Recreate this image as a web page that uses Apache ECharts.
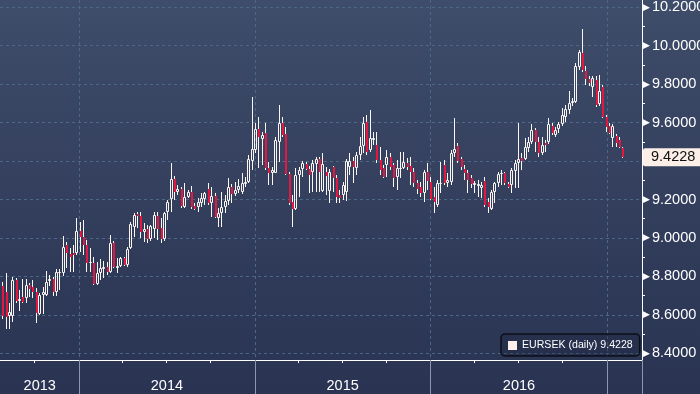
<!DOCTYPE html>
<html>
<head>
<meta charset="utf-8">
<script src="https://cdn.jsdelivr.net/npm/echarts@6.0.0/dist/echarts.min.js"></script>
<style>
html,body{margin:0;padding:0;background:#2f3a58;}
#c{width:700px;height:394px;background:linear-gradient(180deg,#3e4d6a 0%,#36425f 40%,#2f3a59 70%,#2a3352 100%);}
</style>
</head>
<body>
<div id="c"></div>
<script>
// ---- data (weekly bars, EURSEK) ----
const seriesName = 'EURSEK (daily)';
const axisStart = '2013-07-21';   // first day shown on the time axis
const axisDays = 1333;            // number of calendar days shown
const firstBar = '2013-07-26';    // date of first weekly bar (weekly thereafter)
const yearLabels = ['2013', '2014', '2015', '2016'];

const open = [8.750,8.720,8.594,8.594,8.781,8.674,8.691,8.686,8.755,8.743,
8.720,8.604,8.701,8.703,8.778,8.788,8.720,8.819,8.819,8.961,
8.916,8.922,8.923,9.038,9.007,8.963,8.868,8.871,8.759,8.816,
8.840,8.850,8.824,8.972,8.845,8.856,8.894,8.861,8.950,9.059,
9.123,9.116,9.029,9.045,8.993,9.048,9.116,9.050,8.993,9.137,
9.201,9.305,9.237,9.253,9.159,9.215,9.241,9.166,9.163,9.180,
9.201,9.253,9.180,9.218,9.105,9.131,9.163,9.192,9.263,9.229,
9.249,9.241,9.281,9.289,9.400,9.458,9.565,9.513,9.544,9.362,
9.340,9.340,9.501,9.596,9.541,9.333,9.189,9.149,9.327,9.357,
9.385,9.359,9.345,9.385,9.411,9.246,9.345,9.244,9.367,9.310,
9.223,9.223,9.241,9.371,9.402,9.362,9.432,9.478,9.602,9.458,
9.510,9.484,9.406,9.362,9.380,9.419,9.380,9.319,9.357,9.362,
9.392,9.374,9.345,9.284,9.263,9.236,9.345,9.293,9.211,9.171,
9.281,9.380,9.284,9.293,9.440,9.478,9.409,9.357,9.340,9.314,
9.276,9.270,9.258,9.298,9.189,9.149,9.241,9.288,9.331,9.340,
9.281,9.276,9.350,9.392,9.418,9.409,9.466,9.501,9.562,9.501,
9.444,9.492,9.501,9.582,9.536,9.565,9.593,9.631,9.666,9.704,
9.709,9.891,9.960,9.870,9.825,9.787,9.822,9.697,9.784,9.631,
9.582,9.518,9.530,9.510,9.466];

const close = [8.594,8.590,8.615,8.781,8.674,8.684,8.668,8.755,8.736,8.720,
8.608,8.703,8.719,8.771,8.788,8.720,8.823,8.823,8.951,8.923,
8.899,8.913,9.038,9.007,8.963,8.868,8.873,8.759,8.816,8.845,
8.850,8.824,8.972,8.850,8.856,8.894,8.861,8.944,9.073,9.119,
9.116,9.029,9.045,8.993,9.062,9.119,9.045,8.993,9.128,9.189,
9.305,9.241,9.253,9.166,9.215,9.241,9.159,9.151,9.189,9.206,
9.232,9.180,9.218,9.111,9.131,9.163,9.192,9.263,9.229,9.249,
9.270,9.284,9.289,9.411,9.461,9.567,9.523,9.534,9.362,9.340,
9.353,9.510,9.596,9.536,9.333,9.180,9.149,9.327,9.353,9.388,
9.359,9.327,9.388,9.409,9.345,9.385,9.322,9.345,9.310,9.211,
9.206,9.276,9.402,9.402,9.371,9.432,9.478,9.596,9.449,9.518,
9.518,9.406,9.354,9.319,9.419,9.367,9.310,9.362,9.362,9.397,
9.371,9.345,9.284,9.255,9.236,9.345,9.298,9.201,9.189,9.288,
9.288,9.284,9.302,9.444,9.461,9.402,9.371,9.340,9.302,9.281,
9.284,9.281,9.276,9.171,9.159,9.241,9.284,9.333,9.340,9.284,
9.267,9.354,9.392,9.409,9.402,9.472,9.501,9.562,9.501,9.440,
9.484,9.484,9.591,9.544,9.562,9.593,9.640,9.669,9.700,9.714,
9.895,9.969,9.874,9.825,9.804,9.830,9.692,9.765,9.631,9.575,
9.544,9.580,9.492,9.471,9.4228];

const low = [8.580,8.524,8.524,8.564,8.663,8.622,8.663,8.663,8.694,8.686,
8.556,8.599,8.604,8.698,8.751,8.698,8.698,8.729,8.802,8.842,
8.824,8.824,8.911,8.929,8.911,8.824,8.824,8.755,8.755,8.781,
8.790,8.807,8.816,8.845,8.816,8.850,8.854,8.850,8.940,9.007,
9.053,8.998,8.981,8.972,8.986,8.998,8.989,8.975,8.986,9.093,
9.137,9.197,9.223,9.154,9.154,9.206,9.149,9.145,9.137,9.159,
9.171,9.171,9.111,9.102,9.059,9.059,9.128,9.171,9.180,9.218,
9.232,9.229,9.267,9.284,9.353,9.440,9.362,9.380,9.353,9.275,
9.275,9.336,9.397,9.527,9.327,9.171,9.059,9.145,9.215,9.318,
9.353,9.232,9.241,9.241,9.241,9.241,9.223,9.180,9.241,9.180,
9.180,9.197,9.194,9.327,9.284,9.327,9.406,9.440,9.432,9.449,
9.484,9.388,9.327,9.310,9.319,9.354,9.267,9.249,9.310,9.357,
9.354,9.276,9.267,9.230,9.215,9.189,9.249,9.197,9.128,9.163,
9.232,9.276,9.267,9.276,9.423,9.388,9.354,9.302,9.232,9.258,
9.232,9.211,9.206,9.163,9.128,9.145,9.180,9.267,9.276,9.276,
9.258,9.232,9.258,9.258,9.354,9.406,9.449,9.489,9.449,9.423,
9.432,9.449,9.489,9.536,9.527,9.548,9.582,9.605,9.645,9.687,
9.700,9.874,9.865,9.796,9.791,9.735,9.683,9.686,9.622,9.553,
9.541,9.475,9.475,9.466,9.414];

const high = [8.770,8.816,8.660,8.795,8.790,8.729,8.785,8.785,8.764,8.781,
8.738,8.712,8.743,8.830,8.805,8.795,8.840,8.840,9.010,8.981,
8.946,8.963,9.102,9.085,9.093,8.989,8.946,8.903,8.877,8.889,
8.882,8.877,9.015,8.986,8.894,8.903,8.903,8.955,9.085,9.132,
9.137,9.137,9.076,9.067,9.067,9.137,9.137,9.102,9.137,9.197,
9.392,9.322,9.276,9.267,9.284,9.249,9.270,9.180,9.206,9.232,
9.241,9.284,9.267,9.232,9.154,9.241,9.223,9.310,9.280,9.293,
9.305,9.336,9.319,9.432,9.735,9.600,9.627,9.553,9.596,9.397,
9.371,9.527,9.692,9.627,9.575,9.345,9.223,9.362,9.367,9.402,
9.397,9.374,9.406,9.420,9.423,9.440,9.371,9.357,9.374,9.327,
9.249,9.293,9.409,9.440,9.423,9.449,9.527,9.631,9.640,9.666,
9.553,9.553,9.475,9.380,9.458,9.440,9.388,9.406,9.449,9.449,
9.414,9.423,9.362,9.300,9.293,9.354,9.388,9.319,9.267,9.302,
9.397,9.406,9.336,9.458,9.622,9.492,9.423,9.380,9.354,9.328,
9.298,9.302,9.293,9.319,9.206,9.249,9.293,9.345,9.354,9.345,
9.293,9.362,9.406,9.596,9.444,9.518,9.527,9.593,9.570,9.527,
9.527,9.510,9.622,9.596,9.579,9.605,9.674,9.692,9.764,9.726,
9.908,9.978,10.085,9.893,9.843,9.843,9.840,9.848,9.796,9.640,
9.600,9.593,9.540,9.527,9.475];

// ---- axis / style settings ----
const Y_MIN = 8.365, Y_MAX = 10.238;
const FONT = "'Liberation Sans Narrow', 'Liberation Sans', sans-serif";
const GRID_COLOR = '#4b6986';
const RED = '#e3173f';
const WHITE = '#fbf6f2';

const DAY = 864e5;
const t0 = Date.parse(axisStart + 'T00:00:00Z');
const days = [];
for (let i = 0; i < axisDays; i++) days.push(new Date(t0 + i * DAY).toISOString().slice(0, 10));
const dayIndex = {};
days.forEach((d, i) => { dayIndex[d] = i; });
const tb = Date.parse(firstBar + 'T00:00:00Z');
const candles = open.map((o, k) => {
  const d = new Date(tb + 7 * k * DAY).toISOString().slice(0, 10);
  return [dayIndex[d], o, close[k], low[k], high[k]];
});
const lastClose = close[close.length - 1];

const quarterSet = new Set(days.filter(d => ['01-01', '04-01', '07-01', '10-01'].includes(d.slice(5))));
const yearSet = new Set(days.filter(d => d.slice(5) === '01-01'));
const labelSet = new Set();
yearLabels.forEach(y => {
  let first = -1, last = -1;
  days.forEach((d, i) => { if (d.slice(0, 4) === y) { if (first < 0) first = i; last = i; } });
  if (first >= 0) labelSet.add(Math.floor((first + last + 1) / 2));
});

function renderItem(params, api) {
  const i = api.value(0);
  const o = api.value(1), c = api.value(2), l = api.value(3), h = api.value(4);
  const pO = api.coord([i, o]);
  const xi = Math.round(pO[0] - 0.5);
  const yO = pO[1], yC = api.coord([i, c])[1];
  const yL = Math.round(api.coord([i, l])[1]), yH = Math.round(api.coord([i, h])[1]);
  const top = Math.round(Math.min(yO, yC)), bot = Math.round(Math.max(yO, yC));
  const wx = xi + 0.5;
  const ch = [];
  if (c >= o) {
    ch.push({ type: 'line', shape: { x1: wx, y1: yH, x2: wx, y2: top }, style: { stroke: WHITE, lineWidth: 1 } });
    ch.push({ type: 'line', shape: { x1: wx, y1: bot, x2: wx, y2: yL }, style: { stroke: WHITE, lineWidth: 1 } });
    ch.push({ type: 'rect', shape: { x: xi - 0.5, y: top + 0.5, width: 2, height: Math.max(bot - top - 1, 0) },
      style: { fill: 'none', stroke: WHITE, lineWidth: 1 } });
  } else {
    ch.push({ type: 'line', shape: { x1: wx, y1: yH, x2: wx, y2: yL }, style: { stroke: WHITE, lineWidth: 1 } });
    ch.push({ type: 'rect', shape: { x: xi, y: top, width: 2, height: Math.max(bot - top, 1) }, style: { fill: RED } });
  }
  return { type: 'group', children: ch };
}

const chart = echarts.init(document.getElementById('c'), null, { renderer: 'canvas' });
chart.setOption({
  backgroundColor: 'transparent',
  animation: false,
  grid: { left: 0, right: 58, top: 0, bottom: 34, containLabel: false, outerBoundsMode: 'none' },
  legend: {
    left: 501, top: 334,
    padding: [6, 7, 5, 7],
    itemWidth: 9, itemHeight: 9, icon: 'rect',
    selectedMode: false,
    borderColor: '#0c0f18', borderWidth: 1.5, borderRadius: 4,
    backgroundColor: 'rgba(30,37,60,0.35)',
    textStyle: { color: '#ffffff', fontSize: 10.6, fontFamily: "'Liberation Sans', sans-serif" },
    data: [{ name: seriesName, itemStyle: { color: '#fdf0ea' } }],
    formatter: n => n + ' ' + lastClose.toFixed(4)
  },
  xAxis: [
    {
      type: 'category', data: days, boundaryGap: true, position: 'bottom',
      axisLine: { show: true, lineStyle: { color: '#ffffff', width: 1 } },
      axisTick: { show: true, interval: (i, v) => quarterSet.has(v), length: 3, lineStyle: { color: '#ffffff' } },
      axisLabel: { show: true, interval: (i) => labelSet.has(i), formatter: v => v.slice(0, 4),
        color: '#ffffff', fontSize: 14.5, fontFamily: FONT, margin: 18 },
      splitLine: { show: true, interval: (i, v) => yearSet.has(v), lineStyle: { color: GRID_COLOR, type: [3, 3], width: 1 } }
    },
    {
      type: 'category', data: days, boundaryGap: true, position: 'bottom',
      axisLine: { show: false },
      axisTick: { show: true, interval: (i, v) => yearSet.has(v), length: 34, lineStyle: { color: '#8d96ab', width: 1 } },
      axisLabel: { show: false },
      splitLine: { show: false }
    }
  ],
  yAxis: {
    type: 'value', position: 'right', min: Y_MIN, max: Y_MAX, splitNumber: 9,
    axisLine: { show: true, lineStyle: { color: '#ffffff', width: 1 } },
    axisTick: { show: false },
    minorTick: { show: true, splitNumber: 2, length: 3, lineStyle: { color: '#ffffff' } },
    axisLabel: {
      margin: 1,
      formatter: v => {
        const r = v / 0.2;
        if (Math.abs(r - Math.round(r)) > 1e-6) return '';
        return '{t|\u25B6}{v|' + v.toFixed(4) + '}';
      },
      rich: {
        t: { fontSize: 9, fontFamily: 'DejaVu Sans', color: '#ffffff' },
        v: { fontSize: 14.5, fontFamily: FONT, color: '#ffffff', padding: [0, 0, 0, 2] }
      }
    },
    splitLine: { show: true, showMinLine: false, showMaxLine: false, lineStyle: { color: GRID_COLOR, type: [3, 3], width: 1 } }
  },
  series: [
    {
      type: 'custom', name: seriesName, renderItem: renderItem, data: candles,
      encode: { x: 0, y: [1, 2, 3, 4] }, clip: true, z: 3, silent: true
    },
    {
      type: 'line', name: 'last', data: [[candles[candles.length - 1][0], lastClose]],
      symbol: 'none', lineStyle: { width: 0, color: 'rgba(0,0,0,0)' }, silent: true, z: 5,
      markLine: {
        symbol: ['none', 'none'], silent: true, animation: false,
        lineStyle: { width: 0, color: 'rgba(0,0,0,0)' },
        label: {
          show: true, position: 'end', distance: 1,
          formatter: lastClose.toFixed(4),
          color: '#111111', backgroundColor: '#fcefe8',
          padding: [2, 14, 1, 8], fontSize: 14.5, fontFamily: FONT, borderRadius: 2
        },
        data: [{ yAxis: lastClose }]
      }
    }
  ]
});
</script>
</body>
</html>
